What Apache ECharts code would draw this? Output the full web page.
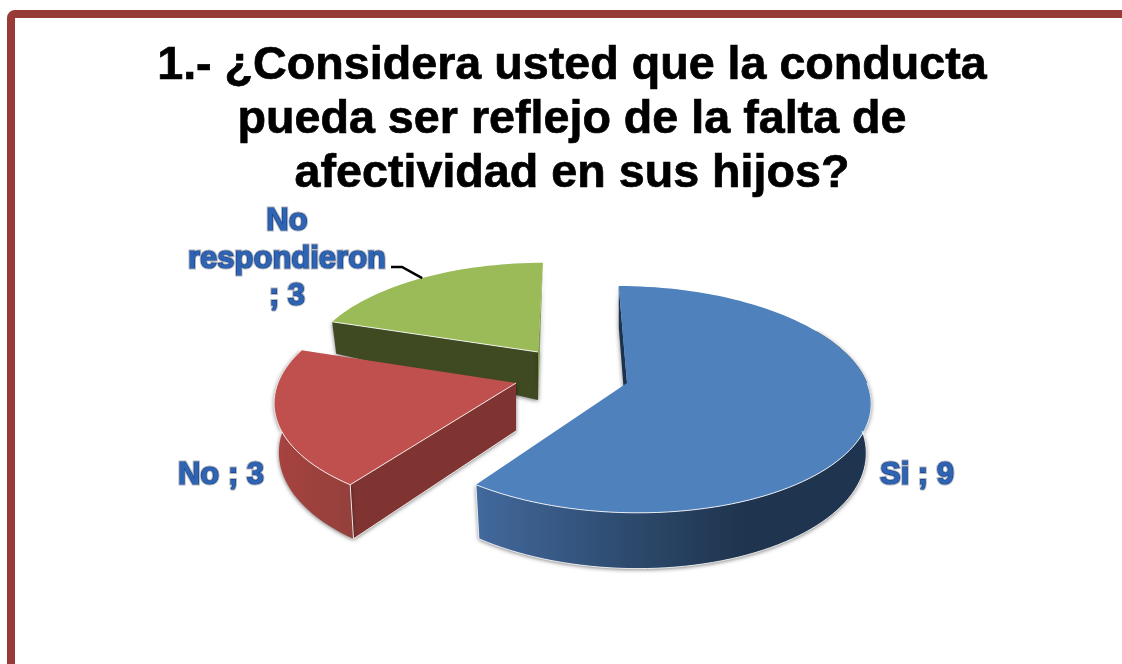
<!DOCTYPE html>
<html>
<head>
<meta charset="utf-8">
<style>html,body{margin:0;padding:0;background:#fff}#c{width:1122px;height:664px}</style>
<script src="https://cdn.jsdelivr.net/npm/echarts@6/dist/echarts.min.js"></script>
</head>
<body>
<div id="c"></div>
<script>
const titleText = '1.- ¿Considera usted que la conducta\npueda ser reflejo de la falta de\nafectividad en sus hijos?';
const categories = ['Si', 'No', 'No respondieron'];
const values = [9, 3, 3];
const labelWraps = ['Si ; 9', 'No ; 3', 'No\nrespondieron\n; 3'];

const RX = 240, RY = 111, K = 0.145, BX = 0.98, DEPTH = 48;
const sliceLayout = [
  {ax:627, ay:383, sx:1, sy:1, skew:9.5, slope:0.06, z:30, top:'#4f81bd', arc:[60,null],
   fillArc:{type:'linear',x:0,y:0,x2:1,y2:0,colorStops:[{offset:0,color:'#42699d'},{offset:0.45,color:'#2a4566'},{offset:0.68,color:'#1f344e'},{offset:1,color:'#1f344e'}]},
   radial:[{at:'start',color:'#1c3350'}], edgeFrom:90, label:{x:917,y:475}},
  {ax:516, ay:383, sx:0.992, sy:1, skew:-8, slope:0.06, z:20, top:'#c0504d', arc:[null,null],
   fillArc:{type:'linear',x:0,y:0,x2:1,y2:0,colorStops:[{offset:0,color:'#a8423f'},{offset:1,color:'#93403c'}]},
   radial:[{at:'start',color:'#7f3432'}], label:{x:221,y:475}},
  {ax:538, ay:352, sx:0.95, sy:0.92, skew:-6, slope:0.53, z:10, top:'#9bbb59',
   radial:[{at:'start',color:'#3f4a22'},{at:'end',color:'#7d9a4c'}],
   label:{x:287,y:259}, leader:[[391,267],[402,267]]}
];
const total = values.reduce((a,b)=>a+b,0);

function off(L, deg){
  const t = deg*Math.PI/180, s = Math.sin(t), c = Math.cos(t), w = 1+K*c;
  return [(RX*s - L.skew*c)/w*L.sx, -RY*c/w*L.sy];
}
function topPt(L, deg){ const o = off(L,deg); return [L.ax+o[0], L.ay+o[1]]; }
function botPt(L, deg){ const o = off(L,deg); return [L.ax+o[0]*BX, L.ay+o[1]+DEPTH+L.slope*o[1]]; }
function arcPts(fn, L, a, b){
  const pts = [], n = Math.max(2, Math.ceil(Math.abs(b-a)/2));
  for(let i=0;i<=n;i++) pts.push(fn(L, a+(b-a)*i/n));
  return pts;
}
const SHADOW = {shadowBlur:4, shadowColor:'rgba(0,0,0,0.55)', shadowOffsetY:1};

function renderItem(params, api){
  const i = params.dataIndex, L = sliceLayout[i], v = api.value(0);
  let before = 0;
  for(let j=0;j<i;j++) before += values[j];
  const a0 = before/total*360, a1 = (before+v)/total*360;
  const kids = [];
  const apexB = [L.ax, L.ay+DEPTH];
  const apex = [L.ax, L.ay];
  const z = L.z;
  (L.radial||[]).forEach(r=>{
    const a = r.at==='start' ? a0 : a1;
    kids.push({type:'polygon', z2:z, shape:{points:[topPt(L,a),apex,apexB,botPt(L,a)]},
      style:Object.assign({fill:r.color},SHADOW)});
  });
  if(L.arc){
    const s = L.arc[0]==null ? a0 : L.arc[0];
    const tops = arcPts(topPt,L,s,a1), bots = arcPts(botPt,L,s,a1).reverse();
    kids.push({type:'polygon', z2:z+1, shape:{points:tops.concat(bots)},
      style:Object.assign({fill:L.fillArc},SHADOW)});
  }
  const rim = arcPts(topPt,L,a0,a1);
  kids.push({type:'polygon', z2:z+2, shape:{points:[apex].concat(rim)}, style:{fill:L.top}});
  const edge = {stroke:'rgba(255,255,255,0.85)', lineWidth:1, fill:null};
  if(i===0){
    kids.push({type:'polyline',z2:z+3,shape:{points:arcPts(topPt,L,L.edgeFrom,a1)},style:edge});
    kids.push({type:'polyline',z2:z+3,shape:{points:arcPts(botPt,L,L.edgeFrom,a1).concat([topPt(L,a1)])},style:edge});
  } else if(i===1){
    kids.push({type:'polyline',z2:z+3,shape:{points:[apex].concat(arcPts(topPt,L,a0,a1))},style:edge});
    kids.push({type:'polyline',z2:z+3,shape:{points:[topPt(L,a0),botPt(L,a0),apexB]},style:edge});
  } else {
    kids.push({type:'polyline',z2:z+3,shape:{points:[topPt(L,a0),apex]},style:edge});
  }
  const lineCount = labelWraps[i].split('\n').length;
  const textBase = {text:labelWraps[i], x:L.label.x, y:L.label.y, align:'center', verticalAlign:'middle',
    font:'bold 31px "Liberation Sans", Arial, sans-serif', lineHeight:lineCount>1?37.5:36};
  kids.push({type:'text', z2:z+5, style:Object.assign({}, textBase, {fill:'#9aa3b3', stroke:'#b4bac6', lineWidth:3.2})});
  kids.push({type:'text', z2:z+6, style:Object.assign({}, textBase, {fill:'#2e64b4', stroke:'#1a4288', lineWidth:1.2})});
  if(L.leader){
    kids.push({type:'polyline', z2:z+5, shape:{points:L.leader.concat([topPt(L,(a0+a1)/2)])},
      style:{stroke:'#000',lineWidth:2.5,fill:null}});
  }
  return {type:'group', children:kids};
}

const chart = echarts.init(document.getElementById('c'), null, {renderer:'canvas', width:1122, height:664});
chart.setOption({
  animation:false,
  backgroundColor:'#fff',
  title:{text:titleText, left:567, top:34, textAlign:'center',
    textStyle:{fontFamily:'"Liberation Sans", Arial, sans-serif', fontWeight:'bold', fontSize:46.67, lineHeight:54, color:'#000', textBorderColor:'#000', textBorderWidth:0.7}},
  graphic:[{type:'rect', z:-1, silent:true, shape:{x:11,y:14,width:1300,height:900,r:4},
    style:{fill:'#fff',stroke:'#983a38',lineWidth:8}}],
  series:[{type:'custom', coordinateSystem:'none', silent:true, renderItem,
    data:values.map((v,i)=>({name:categories[i], value:[v]}))}]
});
</script>
</body>
</html>
